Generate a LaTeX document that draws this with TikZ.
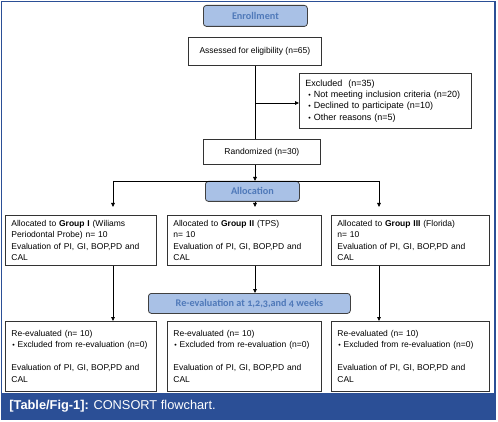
\documentclass[tikz,border=0pt]{standalone}
\usepackage{fontspec}
\setmainfont{Liberation Sans}
\newfontfamily\headfont[Numbers=OldStyle]{Carlito}
\usetikzlibrary{arrows.meta, positioning}
\definecolor{frameblue}{HTML}{2B4F96}
\definecolor{headfill}{HTML}{A9C1E6}
\definecolor{headtext}{HTML}{4F79B9}

\begin{document}
\begin{tikzpicture}[x=1pt, y=-1pt, >={Triangle[length=4pt, width=3.6pt]}, line width=0.8pt,
        headbox/.style={draw=black!75, fill=headfill, rounded corners=3pt, anchor=north west, inner sep=0pt,
            text=headtext, font=\headfont\bfseries\fontsize{10.2}{12}\selectfont},
        infobox/.style={draw=black!80, anchor=north west, align=left, inner xsep=6pt, inner ysep=0pt,
            text width=#1, font=\fontsize{8.5}{11.5}\selectfont},
        midbox/.style={draw=black!80, anchor=north west, inner sep=0pt, font=\fontsize{8.5}{11.5}\selectfont}]
        \def\bul{{\fontsize{7}{7}\selectfont\textbullet}\ }
        \def\evaltext{Evaluation of PI, GI, BOP,PD and\\CAL}
        \def\reevaltext{Re-evaluated (n= 10)\\\hspace*{1pt}\bul Excluded from re-evaluation (n=0)\\[11.5pt]\evaltext}

        \useasboundingbox (0,0) rectangle (498,422);
        \fill[white] (0,0) rectangle (498,422);
        \draw[frameblue, line width=1.6pt] (1.5,1.5) rectangle (495,419);
        \fill[frameblue] (1.5,393) rectangle (495,419);
        \node[anchor=west, text=white, font=\fontsize{12.8}{14}\selectfont, inner sep=0pt] (caption) at (9,406)
            {\textbf{[Table/Fig-1]:} CONSORT flowchart.};

        \node[headbox, minimum width=104pt, minimum height=21pt] (enroll) at (203,5) {Enrollment};
        \node[midbox, minimum width=133pt, minimum height=28pt] (assess) at (188,37) {Assessed for eligibility (n=65)};
        \node[infobox=160pt, minimum height=55pt, font=\fontsize{9}{11.2}\selectfont] (excl) at (299,73)
            {Excluded~ (n=35)\\\hspace*{3pt}\bul Not meeting inclusion criteria (n=20)\\\hspace*{3pt}\bul Declined to participate (n=10)\\\hspace*{3pt}\bul Other reasons (n=5)};
        \node[midbox, minimum width=117pt, minimum height=25pt] (rand) at (203,139) {Randomized (n=30)};
        \node[headbox, minimum width=94pt, minimum height=20pt] (alloc) at (205,181) {Allocation};

        \node[infobox=139pt, minimum height=50pt] (grpA) at (5,215)
            {Allocated to \textbf{Group I} (Wiliams\\Periodontal Probe) n= 10\\\evaltext};
        \node[infobox=142pt, minimum height=50pt] (grpB) at (167,215)
            {Allocated to \textbf{Group II} (TPS)\\n= 10\\\evaltext};
        \node[infobox=146pt, minimum height=50pt] (grpC) at (331,215)
            {Allocated to \textbf{Group III} (Florida)\\n= 10\\\evaltext};

        \node[headbox, minimum width=202pt, minimum height=20pt] (reeval) at (148,293) {Re-evaluation at 1,2,3,and 4 weeks};

        \node[infobox=139pt, minimum height=70pt] (endA) at (5,321) {\reevaltext};
        \node[infobox=142pt, minimum height=70pt] (endB) at (167,321) {\reevaltext};
        \node[infobox=146pt, minimum height=70pt] (endC) at (331,321) {\reevaltext};

        \coordinate (split) at (255,103);
        \coordinate (forkL) at (113,181);
        \coordinate (forkR) at (379,181);

        \draw (assess.south -| split) -- (rand.north -| split);
        \draw[->] (split) -- (split -| excl.west);
        \draw[->] (rand.south -| split) -- (alloc.north -| split);
        \draw (forkL) -- (forkR);
        \draw[->, shorten >=8pt] (forkL) -- (forkL |- grpA.north);
        \draw[->, shorten >=8pt] (forkR) -- (forkR |- grpC.north);
        \draw[->, shorten >=8pt] (alloc.south -| split) -- (grpB.north -| split);
        \draw[->] (grpB.south -| split) -- (reeval.north -| split);
        \draw[->] (grpA.south -| forkL) -- (endA.north -| forkL);
        \draw[->] (grpC.south -| forkR) -- (endC.north -| forkR);
\end{tikzpicture}
\end{document}
